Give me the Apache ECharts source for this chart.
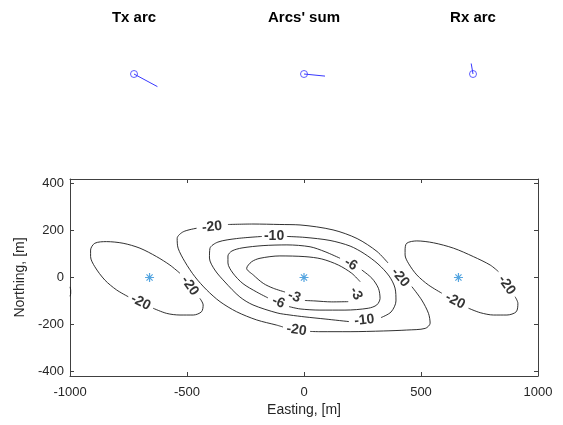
<!DOCTYPE html>
<html>
<head>
	<meta charset="utf-8">
	<title>arcs</title>
	<script type="text/javascript" src="https://cdn.jsdelivr.net/npm/echarts@6/dist/echarts.min.js"></script>
	<style>
		html, body { margin: 0; padding: 0; background: #fff; }
		#DIV1 { width: 563px; height: 425px; }
	</style>
</head>
<body>
	<div id="DIV1"></div>
	<script type="text/javascript">

		// ---- data ----
		const arcTitles = ["Tx arc", "Arcs' sum", "Rx arc"];
		const arcVectors = [[0.78, -0.42], [0.70, -0.07], [-0.06, 0.35]];	// circle sits at origin
		const sites = [[-660, 0], [0, 0], [660, 0]];
		const xTicks = [-1000, -500, 0, 500, 1000];
		const yTicks = [-400, -200, 0, 200, 400];

		// contour pieces, split where MATLAB put a label
		const txLevel20 = [
			[[-445,-89],[-431,-117],[-438,-146],[-473,-160],[-530,-160],[-587,-153],[-645,-131]],
			[[-751,-82],[-801,-53],[-851,-11],[-894,46],[-912,89],[-912,117],[-894,146],[-844,153],[-773,146],[-701,125],[-630,89],[-573,53],[-530,18]]
		];
		const rxLevel20 = [
			[[902,-82],[914,-110],[907,-146],[867,-160],[810,-160],[753,-150],[703,-131]],
			[[589,-67],[532,-32],[482,11],[446,61],[432,96],[432,117],[439,146],[482,156],[553,148],[639,125],[724,89],[796,53],[831,25]]
		];
		const edgeLevel20 = [
			[[-1000,-40],[-997,-55],[-997,-68],[-1000,-80]]
		];
		const sumLevel20 = [
			[[-325,226],[-218,228],[-103,226],[-17,224],[124,203],[227,166],[312,111],[359,62]],
			[[461,-39],[503,-96],[532,-153],[539,-195],[518,-217],[439,-224],[339,-228],[197,-231],[68,-231],[26,-230]],
			[[-90,-211],[-117,-203],[-202,-181],[-288,-146],[-359,-103],[-416,-53],[-466,3],[-509,67],[-538,125],[-542,167],[-516,195],[-459,210]]
		];
		const sumLevel10 = [
			[[-73,175],[4,171],[111,158],[197,134],[257,102],[316,58],[364,6],[389,-45],[393,-100],[372,-147],[329,-171]],
			[[192,-188],[90,-177],[4,-168],[-60,-160],[-115,-151],[-218,-117],[-274,-83],[-338,-19],[-381,32],[-404,83],[-402,124],[-368,151],[-288,166],[-180,175]]
		];
		const sumLevel6 = [
			[[247,32],[290,-3],[318,-46],[325,-89],[311,-117],[275,-131],[175,-139],[68,-139],[-17,-134],[-64,-124]],
			[[-154,-87],[-202,-62],[-261,-26],[-304,19],[-325,62],[-325,92],[-308,113],[-265,126],[-175,136],[-73,139],[26,131],[90,110],[154,82]]
		];
		const sumLevel3 = [
			[[189,-103],[118,-104],[47,-100],[4,-98]],
			[[-81,-62],[-131,-46],[-174,-25],[-217,11],[-245,39],[-224,67],[-188,82],[-103,92],[4,89],[76,79],[147,53],[204,18],[240,-18]]
		];

		// label anchor [x, y, level]
		const contourLabels = [
			[-488,-36,-20], [-698,-106,-20],
			[866,-32,-20], [646,-100,-20],
			[-393,216,-20], [411,0,-20], [-32,-224,-20],
			[-128,175,-10], [258,-182,-10],
			[200,57,-6], [-109,-106,-6],
			[-42,-82,-3], [222,-68,-3]
		];
		const labelAngles = [-55, -27, -55, -27, 6, -50, -8, 0, 6, -30, -22, -20, -62];

		const FONT = "'Liberation Sans', Arial, sans-serif";
		const INK = "#262626";

		const Chart = function(){
			let 
				_chart = echarts.init(document.getElementById("DIV1")),

				_miniGrid = function(i){
					const cx = [134, 304, 473][i];
					return { left: cx - 30, top: 44, width: 60, height: 60 };
				},

				_miniX = function(i){
					return {
						type: "value", gridIndex: i, min: -1, max: 1, position: "top",
						name: arcTitles[i], nameLocation: "middle", nameGap: 19,
						nameTextStyle: { fontFamily: FONT, fontSize: 15, fontWeight: "bold", color: "#000" },
						axisLine: { show: false }, axisTick: { show: false },
						axisLabel: { show: false }, splitLine: { show: false }
					};
				},

				_miniY = function(i){
					return { type: "value", gridIndex: i, min: -1, max: 1, show: false };
				},

				_miniSeries = function(i){
					const blue = "#3838ff";
					return [
						{
							type: "line", xAxisIndex: i, yAxisIndex: i,
							data: [[0, 0], arcVectors[i]], showSymbol: false,
							lineStyle: { color: blue, width: 1 }, silent: true
						},
						{
							type: "scatter", xAxisIndex: i, yAxisIndex: i,
							data: [[0, 0]], symbol: "circle", symbolSize: 7,
							itemStyle: { color: "rgba(255,255,255,0)", borderColor: blue, borderWidth: 1 }, silent: true
						}
					];
				},

				_contourSeries = function(pieces){
					return pieces.map(function(seg){
						return {
							type: "line", xAxisIndex: 3, yAxisIndex: 3,
							data: seg, showSymbol: false, smooth: 0.3,
							lineStyle: { color: "#1a1a1a", width: 0.9 }, silent: true
						};
					});
				},

				_plain = function(v){ return String(v); },

				_initialize = function(){
					const mainAxisLine = { show: true, onZero: false, lineStyle: { color: "#404040", width: 1 } };
					const tick = { inside: true, length: 4, lineStyle: { color: "#404040" } };
					const xAxes = [_miniX(0), _miniX(1), _miniX(2),
						{
							type: "value", gridIndex: 3, min: -1000, max: 1000, interval: 500,
							name: "Easting, [m]", nameLocation: "middle", nameGap: 27,
							nameTextStyle: { fontFamily: FONT, fontSize: 14, color: INK },
							axisLine: mainAxisLine, axisTick: tick,
							axisLabel: { fontFamily: FONT, fontSize: 13, color: INK, margin: 10, formatter: _plain },
							splitLine: { show: false }
						},
						{
							type: "value", gridIndex: 3, min: -1000, max: 1000, interval: 500, position: "top",
							axisLine: mainAxisLine, axisTick: tick,
							axisLabel: { show: false }, splitLine: { show: false }
						}
					];
					const yTick = Object.assign({ customValues: yTicks }, tick);
					const yAxes = [_miniY(0), _miniY(1), _miniY(2),
						{
							type: "value", gridIndex: 3, min: -420, max: 420,
							name: "Northing, [m]", nameLocation: "middle", nameGap: 40,
							nameTextStyle: { fontFamily: FONT, fontSize: 14, color: INK },
							axisLine: mainAxisLine, axisTick: yTick,
							axisLabel: { fontFamily: FONT, fontSize: 13, color: INK, margin: 6, customValues: yTicks, formatter: _plain },
							splitLine: { show: false }
						},
						{
							type: "value", gridIndex: 3, min: -420, max: 420, position: "right",
							axisLine: mainAxisLine, axisTick: yTick,
							axisLabel: { show: false }, splitLine: { show: false }
						}
					];

					let series = [];
					[0, 1, 2].forEach(function(i){ series = series.concat(_miniSeries(i)); });
					[txLevel20, rxLevel20, edgeLevel20, sumLevel20, sumLevel10, sumLevel6, sumLevel3].forEach(function(p){
						series = series.concat(_contourSeries(p));
					});
					series.push({
						type: "scatter", xAxisIndex: 3, yAxisIndex: 3, silent: true,
						symbolSize: 0,
						data: contourLabels.map(function(l, k){
							return {
								value: [l[0], l[1]],
								label: { rotate: labelAngles[k] }
							};
						}),
						label: {
							show: true, position: "inside",
							formatter: function(p){ return String(contourLabels[p.dataIndex][2]); },
							fontFamily: FONT, fontSize: 14, fontWeight: "bold", color: "#000"
						}
					});
					series.push({
						type: "scatter", xAxisIndex: 3, yAxisIndex: 3, silent: true,
						data: sites,
						symbol: "path://M5,0L5,10M0,5L10,5M1.6,1.6L8.4,8.4M1.6,8.4L8.4,1.6",
						symbolSize: 9,
						itemStyle: { color: "rgba(0,0,0,0)", borderColor: "#2a8fd8", borderWidth: 1.2 }
					});

					const option = {
						animation: false,
						backgroundColor: "#fff",
						grid: [_miniGrid(0), _miniGrid(1), _miniGrid(2),
							{ left: 70, right: 25, top: 179, bottom: 49 }],
						xAxis: xAxes,
						yAxis: yAxes,
						series: series
					};
					_chart.setOption(option);
				};

			return {
				chart: _chart,
				initialize: _initialize
			};
		}();

		Chart.initialize();
	</script>
</body>
</html>
